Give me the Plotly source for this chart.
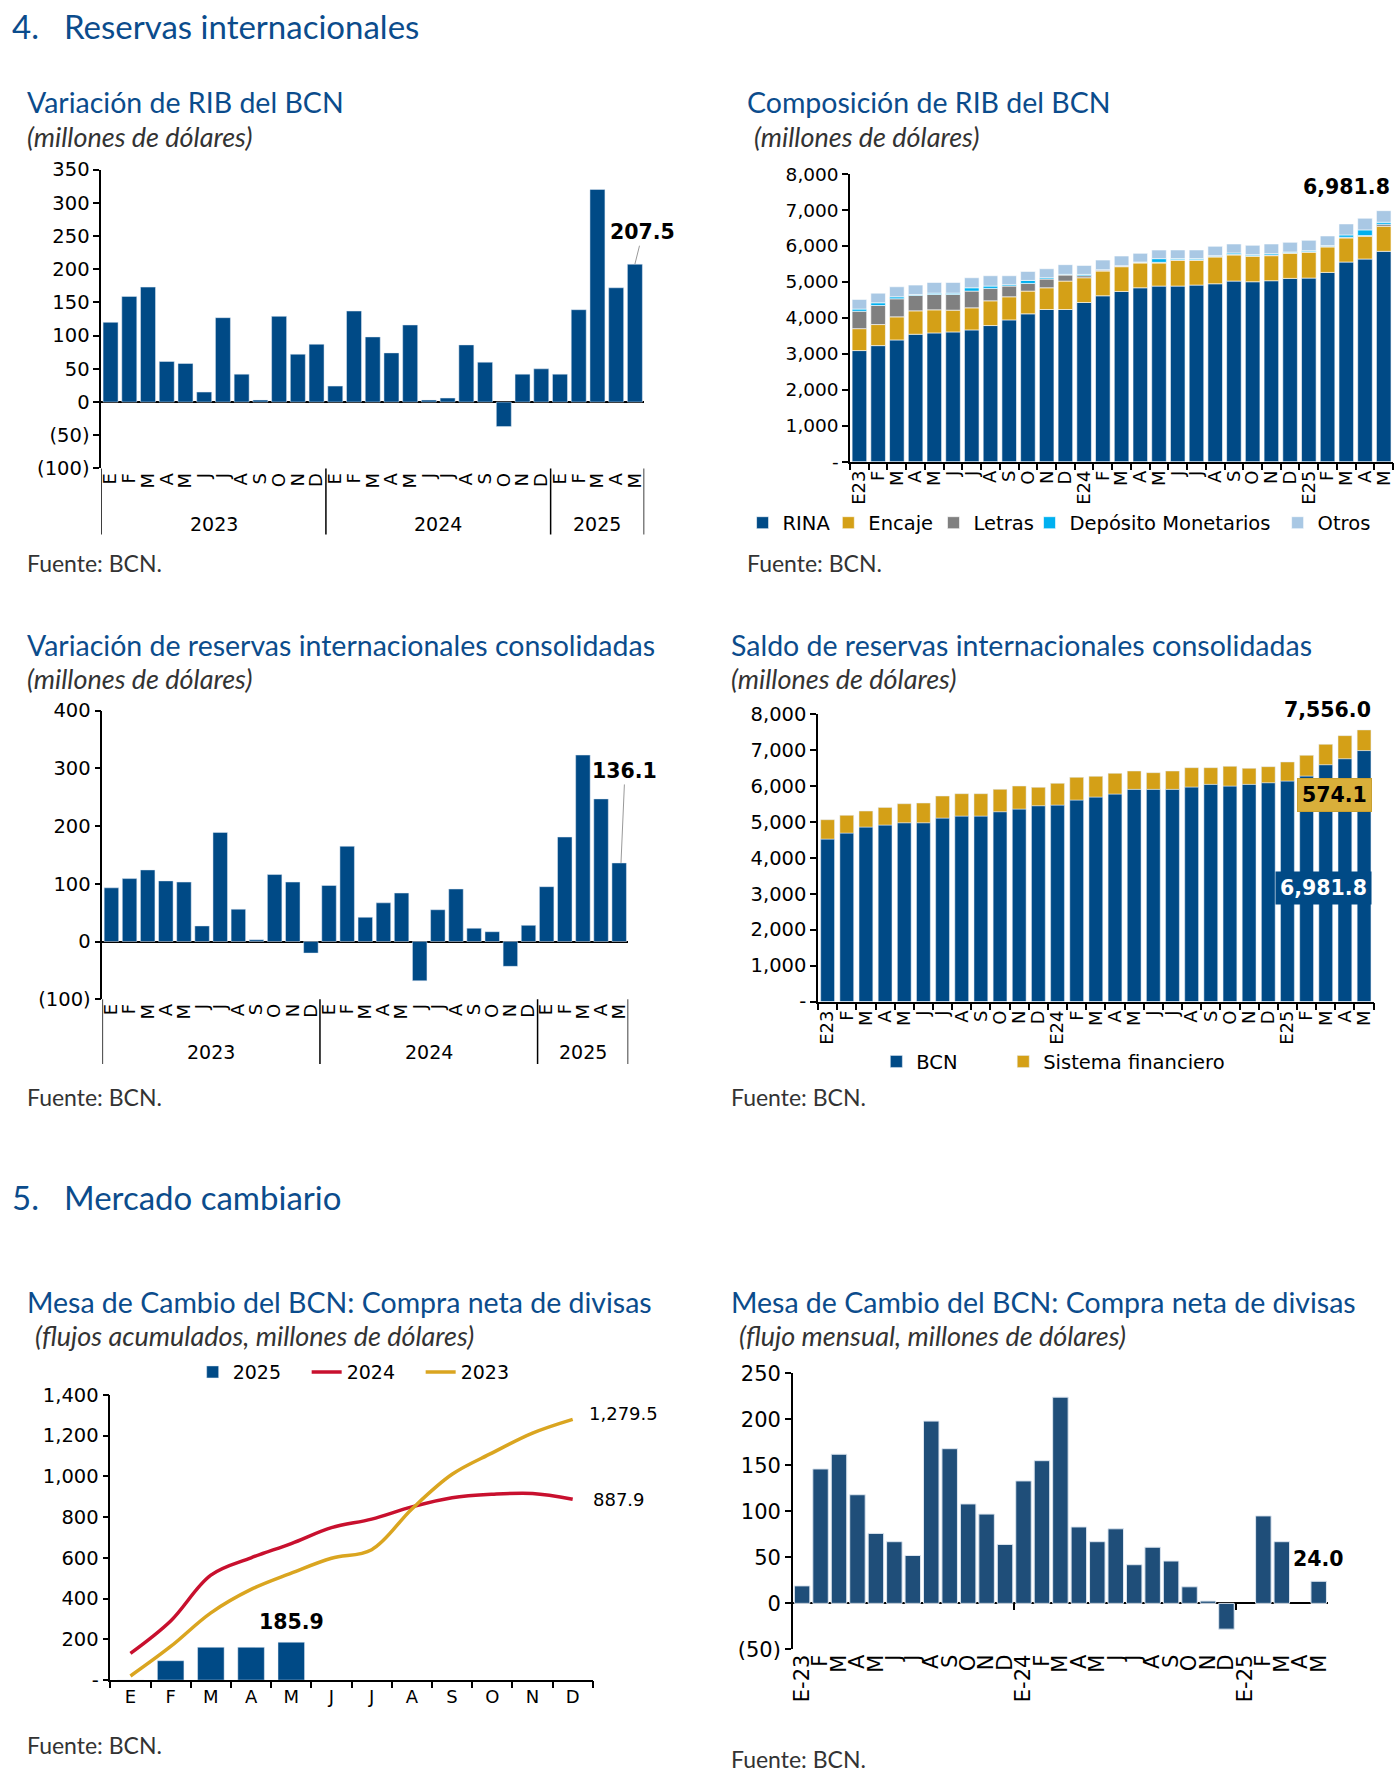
import plotly.graph_objects as go

W, H = 1399, 1781
K = W / 1232.0


def px(x):
    return ((x - 6.1) / 0.989) * K / W


def py(y):
    return 1 - ((y - 12.4) / 0.9856) * K / H


# ---------------- DATA ----------------
months_29 = ['E', 'F', 'M', 'A', 'M', 'J', 'J', 'A', 'S', 'O', 'N', 'D'] * 2 + ['E', 'F', 'M', 'A', 'M']
months_comp = ['E23', 'F', 'M', 'A', 'M', 'J', 'J', 'A', 'S', 'O', 'N', 'D',
               'E24', 'F', 'M', 'A', 'M', 'J', 'J', 'A', 'S', 'O', 'N', 'D',
               'E25', 'F', 'M', 'A', 'M']
months_flow = ['E-23', 'F', 'M', 'A', 'M', 'J', 'J', 'A', 'S', 'O', 'N', 'D',
               'E-24', 'F', 'M', 'A', 'M', 'J', 'J', 'A', 'S', 'O', 'N', 'D',
               'E-25', 'F', 'M', 'A', 'M']
months_12 = ['E', 'F', 'M', 'A', 'M', 'J', 'J', 'A', 'S', 'O', 'N', 'D']
years = ['2023', '2024', '2025']

# Variación de RIB del BCN
var_rib = [120, 159, 173, 61, 58, 15, 127, 42, 3, 129, 72, 87,
           24, 137, 98, 74, 116, 3, 6, 86, 60, -37, 42, 50,
           42, 139, 320, 172, 207.5]

# Composición de RIB del BCN
rina = [3090, 3228, 3386, 3544, 3581, 3609, 3665, 3786, 3944, 4112, 4233, 4233,
        4428, 4614, 4735, 4837, 4884, 4884, 4912, 4949, 5023, 5005, 5033, 5098,
        5107, 5265, 5553, 5637, 5851]
encaje = [610, 586, 642, 651, 642, 605, 614, 688, 642, 632, 604, 790,
          688, 688, 688, 689, 642, 716, 688, 744, 726, 707, 697, 697,
          716, 707, 670, 633, 698]
letras = [484, 530, 502, 428, 428, 437, 465, 345, 298, 214, 242, 168,
          56, 28, 19, 19, 19, 19, 19, 19, 19, 19, 19, 19,
          19, 19, 19, 19, 56]
deposito = [60, 75, 56, 28, 37, 37, 93, 65, 37, 84, 37, 20,
            37, 9, 9, 9, 102, 30, 30, 19, 37, 28, 37, 19,
            28, 19, 65, 158, 55]
otros = [270, 269, 279, 261, 298, 298, 279, 288, 251, 251, 251, 269,
         251, 270, 270, 241, 241, 241, 241, 260, 251, 260, 270, 269,
         288, 269, 307, 325, 321.8]

# Variación de reservas internacionales consolidadas
var_ric = [93, 109, 124, 105, 103, 27, 189, 56, 3, 116, 103, -20,
           97, 165, 42, 67, 84, -68, 55, 91, 23, 17, -43, 28,
           95, 181, 323, 247, 136.1]

# Saldo de reservas internacionales consolidadas
saldo_bcn = [4520, 4687, 4854, 4910, 4974, 4974, 5104, 5160, 5160, 5281, 5355, 5448,
             5466, 5606, 5689, 5773, 5903, 5903, 5903, 5968, 6042, 5995, 6042, 6088,
             6135, 6274, 6589, 6756, 6981.8]
saldo_sf = [538, 492, 445, 491, 529, 548, 613, 622, 622, 622, 640, 510,
            604, 631, 576, 575, 510, 464, 510, 538, 464, 548, 445, 446,
            529, 575, 566, 641, 574.1]

# Mesa de cambio: flujos acumulados
acum_2025 = [0, 95, 161, 161, 185.9]
acum_2024 = [131, 290, 515, 600, 670, 748, 790, 850, 895, 912, 916, 887.9]
acum_2023 = [20, 165, 330, 445, 525, 598, 640, 840, 1010, 1115, 1212, 1279.5]

# Mesa de cambio: flujo mensual
flujo_mensual = [19, 146, 162, 118, 76, 67, 52, 198, 168, 108, 97, 64,
                 133, 155, 224, 83, 67, 81, 42, 61, 46, 18, 2.5, -28,
                 0, 95, 67, 0, 24.0]

# ---------------- STYLE ----------------
BLUE = '#004A86'
GOLD = '#D4A017'
GRAY = '#808080'
CYAN = '#00B0F0'
LIGHT = '#A9C8E4'
RED = '#C8102E'
YEL = '#DAA520'
TITLE_C = '#0B4C8C'
TXT = '#333333'
TITLE_FONT = 'Lato'


def tf(size):
    return dict(family='DejaVu Sans', size=size, color='black')


fig = go.Figure()
xi = list(range(29))

# Chart 1
fig.add_trace(go.Bar(x=xi, y=var_rib, marker_color=BLUE, width=0.8, showlegend=False,
                     xaxis='x', yaxis='y'))
# Chart 2
comp = [('RINA', rina, BLUE), ('Encaje', encaje, GOLD), ('Letras', letras, GRAY),
        ('Depósito Monetarios', deposito, CYAN), ('Otros', otros, LIGHT)]
comp_leg = ['legend', 'legend2', 'legend3', 'legend4', 'legend5']
for (name, vals, col), lg in zip(comp, comp_leg):
    fig.add_trace(go.Bar(x=xi, y=vals, name=name, marker_color=col, width=0.78,
                         marker_line=dict(color='white', width=0.6),
                         xaxis='x2', yaxis='y2', legend=lg))
# Chart 3
fig.add_trace(go.Bar(x=xi, y=var_ric, marker_color=BLUE, width=0.8, showlegend=False,
                     xaxis='x3', yaxis='y3'))
# Chart 4
fig.add_trace(go.Bar(x=xi, y=saldo_bcn, name='BCN', marker_color=BLUE, width=0.72,
                     xaxis='x4', yaxis='y4', legend='legend6'))
fig.add_trace(go.Bar(x=xi, y=saldo_sf, name='Sistema financiero', marker_color=GOLD, width=0.72,
                     xaxis='x4', yaxis='y4', legend='legend7'))
# Chart 5
x12 = list(range(12))
fig.add_trace(go.Bar(x=x12[:len(acum_2025)], y=acum_2025, name='2025', marker_color=BLUE, width=0.66,
                     xaxis='x5', yaxis='y5', legend='legend8'))
fig.add_trace(go.Scatter(x=x12, y=acum_2024, name='2024', mode='lines',
                         line=dict(color=RED, width=3.5, shape='spline', smoothing=1.0),
                         xaxis='x5', yaxis='y5', legend='legend8'))
fig.add_trace(go.Scatter(x=x12, y=acum_2023, name='2023', mode='lines',
                         line=dict(color=YEL, width=3.5, shape='spline', smoothing=1.0),
                         xaxis='x5', yaxis='y5', legend='legend8'))
# Chart 6
fig.add_trace(go.Bar(x=xi, y=flujo_mensual, marker_color='#1F4E79', width=0.84,
                     marker_line=dict(color='#DDE6F0', width=[1 if v else 0 for v in flujo_mensual]),
                     showlegend=False, xaxis='x6', yaxis='y6'))


def fmt_paren(v):
    if v < 0:
        return '({:,})'.format(-v)
    return '{:,}'.format(v)


def fmt_dash(v):
    return '-' if v == 0 else '{:,}'.format(v)


def yax(dom, rng, vals, fn, fsize=19.5, **kw):
    d = dict(domain=dom, range=rng, tickmode='array', tickvals=vals,
             ticktext=[fn(v) for v in vals], showline=True, linecolor='black', linewidth=1.5,
             ticks='outside', ticklen=6, tickcolor='black', tickwidth=1.5, showgrid=False,
             zeroline=False, tickfont=tf(fsize), fixedrange=True)
    d.update(kw)
    return d


def xax(dom, rng, labels, anchor, angle=-90, fsize=18, **kw):
    d = dict(domain=dom, range=rng, anchor=anchor, tickmode='array',
             tickvals=list(range(len(labels))), ticktext=labels, tickangle=angle,
             ticks='', showline=False, showgrid=False, zeroline=False, tickfont=tf(fsize),
             fixedrange=True)
    d.update(kw)
    return d


# Domains
d1x, d1y = [px(92), px(567)], [py(414), py(151)]
d2x, d2y = [px(747), px(1222)], [py(408), py(155)]
d3x, d3y = [px(93), px(553)], [py(881), py(627)]
d4x, d4y = [px(719), px(1205)], [py(883), py(630)]
d5x, d5y = [px(100), px(522)], [py(1480), py(1229)]
d6x, d6y = [px(697), px(1165)], [py(1453), py(1210)]

R29 = [-0.5, 28.5]
zero6 = d6y[0] + (0 - (-50)) / 300.0 * (d6y[1] - d6y[0])


def overlay(base, anchor, rng, vals, **kw):
    d = dict(overlaying=base, anchor=anchor, range=rng, tickmode='array',
             tickvals=vals, ticks='outside', ticklen=7, tickwidth=1.5, tickcolor='black',
             showticklabels=False, showgrid=False, zeroline=False, showline=False,
             fixedrange=True)
    d.update(kw)
    return d


LEGF = tf(19.5)


def leg(text_x, y, font=LEGF, **kw):
    d = dict(orientation='h', x=px(text_x - 37), y=py(y), xanchor='left', yanchor='middle',
             font=font, bgcolor='rgba(0,0,0,0)', traceorder='normal')
    d.update(kw)
    return d


layout = dict(
    width=W, height=H, margin=dict(l=0, r=0, t=0, b=0, pad=0),
    paper_bgcolor='white', plot_bgcolor='white', barmode='relative',
    font=dict(family='DejaVu Sans', size=17, color='black'),
    xaxis=xax(d1x, R29, months_29, 'y'),
    yaxis=yax(d1y, [-100, 350], list(range(-100, 351, 50)), fmt_paren,
              zeroline=True, zerolinecolor='black', zerolinewidth=2, anchor='x'),
    xaxis2=xax(d2x, R29, months_comp, 'y2', showline=True, linecolor='black', linewidth=1.5),
    yaxis2=yax(d2y, [0, 8000], list(range(0, 8001, 1000)), fmt_dash, fsize=18.5, anchor='x2'),
    xaxis3=xax(d3x, R29, months_29, 'y3'),
    yaxis3=yax(d3y, [-100, 400], list(range(-100, 401, 100)), fmt_paren,
               zeroline=True, zerolinecolor='black', zerolinewidth=2, anchor='x3'),
    xaxis4=xax(d4x, R29, months_comp, 'y4', showline=True, linecolor='black', linewidth=1.5),
    yaxis4=yax(d4y, [0, 8000], list(range(0, 8001, 1000)), fmt_dash, anchor='x4'),
    xaxis5=xax(d5x, [-0.5, 11.5], months_12, 'y5', angle=0, showline=True,
               linecolor='black', linewidth=1.5),
    yaxis5=yax(d5y, [0, 1400], list(range(0, 1401, 200)), fmt_dash, anchor='x5'),
    xaxis6=xax(d6x, R29, months_flow, 'y6', fsize=21),
    yaxis6=yax(d6y, [-50, 250], list(range(-50, 251, 50)), fmt_paren, fsize=21,
               zeroline=True, zerolinecolor='black', zerolinewidth=2, anchor='x6'),
    xaxis7=overlay('x2', 'y2', R29, [i - 0.5 for i in range(30)]),
    xaxis8=overlay('x4', 'y4', R29, [i - 0.5 for i in range(30)]),
    xaxis9=overlay('x5', 'y5', [-0.5, 11.5], [i - 0.5 for i in range(13)]),
    xaxis10=overlay('x6', 'free', R29, [11.5, 23.5], position=zero6, ticklen=6),
    legend=leg(690, 462),
    legend2=leg(765, 462),
    legend3=leg(857, 462),
    legend4=leg(941, 462),
    legend5=leg(1158, 462),
    legend6=leg(807, 936),
    legend7=leg(918, 936),
    legend8=leg(209, 1209, font=tf(19), entrywidth=69),
)
fig.update_layout(**layout)
# dummy traces to activate overlay axes
for ax, ay in [('x7', 'y2'), ('x8', 'y4'), ('x9', 'y5'), ('x10', 'y6')]:
    fig.add_trace(go.Scatter(x=[None], y=[None], xaxis=ax, yaxis=ay, showlegend=False,
                             hoverinfo='skip'))

ann = []


def text(x, y, s, size, color=TXT, family=TITLE_FONT, italic=False, bold=False, anchor='left'):
    if italic:
        s = '<i>' + s + '</i>'
    if bold:
        s = '<b>' + s + '</b>'
    ann.append(dict(xref='paper', yref='paper', x=px(x), y=py(y), text=s, showarrow=False,
                    xanchor=anchor, yanchor='middle',
                    font=dict(family=family, size=size, color=color)))


SEC, TIT, SUB, SRC = 33, 28.5, 27, 23
# Section titles
text(12, 25, '4.', SEC, TITLE_C)
text(58, 25, 'Reservas internacionales', SEC, TITLE_C)
text(12, 1055, '5.', SEC, TITLE_C)
text(58, 1055, 'Mercado cambiario', SEC, TITLE_C)

# Chart titles / subtitles / sources
text(25, 92, 'Variación de RIB del BCN', TIT, TITLE_C)
text(25, 122, '(millones de dólares)', SUB, TXT, italic=True)
text(25, 497, 'Fuente: BCN.', SRC, TXT)

text(655, 92, 'Composición de RIB del BCN', TIT, TITLE_C)
text(661, 122, '(millones de dólares)', SUB, TXT, italic=True)
text(655, 497, 'Fuente: BCN.', SRC, TXT)

text(25, 569, 'Variación de reservas internacionales consolidadas', TIT, TITLE_C)
text(25, 599, '(millones de dólares)', SUB, TXT, italic=True)
text(25, 967, 'Fuente: BCN.', SRC, TXT)

text(641, 569, 'Saldo de reservas internacionales consolidadas', TIT, TITLE_C)
text(641, 599, '(millones de dólares)', SUB, TXT, italic=True)
text(641, 967, 'Fuente: BCN.', SRC, TXT)

text(25, 1147, 'Mesa de Cambio del BCN: Compra neta de divisas', TIT, TITLE_C)
text(32, 1177, '(flujos acumulados, millones de dólares)', SUB, TXT, italic=True)
text(25, 1537, 'Fuente: BCN.', SRC, TXT)

text(641, 1147, 'Mesa de Cambio del BCN: Compra neta de divisas', TIT, TITLE_C)
text(648, 1177, '(flujo mensual, millones de dólares)', SUB, TXT, italic=True)
text(641, 1549, 'Fuente: BCN.', SRC, TXT)

# Year labels and separators for charts 1 and 3
year_centers = [5.5, 17.5, 26]
shapes = []
for xa, yb, yt, yl in [('x', 414, 472, 463), ('x3', 881, 938, 927)]:
    for yc, yr in zip(year_centers, years):
        ann.append(dict(xref=xa, yref='paper', x=yc, y=py(yl), text=yr, showarrow=False,
                        xanchor='center', yanchor='middle', font=tf(19)))
    for b in [-0.5, 11.5, 23.5, 28.5]:
        shapes.append(dict(type='line', xref=xa, yref='paper', x0=b, x1=b, y0=py(yb), y1=py(yt),
                           line=dict(color='black', width=1.5)))

BOLD = tf(20.5)
# Value labels
ann.append(dict(xref='x', yref='y', x=28, y=var_rib[-1], text='<b>207.5</b>', showarrow=True,
                arrowhead=0, arrowwidth=1, arrowcolor='#999999', ax=8, ay=-32, font=BOLD))
ann.append(dict(xref='x3', yref='y3', x=28.1, y=var_ric[-1], text='<b>136.1</b>', showarrow=True,
                arrowhead=0, arrowwidth=1, arrowcolor='#999999', ax=4, ay=-92, font=BOLD))
ann.append(dict(xref='x2', yref='y2', x=28.45,
                y=rina[-1] + encaje[-1] + letras[-1] + deposito[-1] + otros[-1],
                text='<b>6,981.8</b>', showarrow=False, xanchor='right', yanchor='bottom',
                yshift=10, font=BOLD))
ann.append(dict(xref='x4', yref='y4', x=28.45, y=saldo_bcn[-1] + saldo_sf[-1],
                text='<b>7,556.0</b>', showarrow=False, xanchor='right', yanchor='bottom',
                yshift=6, font=BOLD))
ann.append(dict(xref='x4', yref='y4', x=28.4, y=5750, text='<b>574.1</b>', showarrow=False,
                xanchor='right', yanchor='middle', bgcolor='#D9AF3A', bordercolor='#C9A030',
                borderpad=4, font=BOLD))
ann.append(dict(xref='x4', yref='y4', x=28.4, y=3160, text='<b>6,981.8</b>', showarrow=False,
                xanchor='right', yanchor='middle', bgcolor=BLUE, borderpad=4,
                font=dict(family='DejaVu Sans', size=20.5, color='white')))
ann.append(dict(xref='x5', yref='y5', x=4, y=acum_2025[-1], text='<b>185.9</b>', showarrow=False,
                xanchor='center', yanchor='bottom', yshift=6, font=BOLD))
ann.append(dict(xref='x5', yref='y5', x=11, y=acum_2023[-1], text='1,279.5', showarrow=False,
                xanchor='left', yanchor='middle', xshift=14, yshift=6, font=tf(18)))
ann.append(dict(xref='x5', yref='y5', x=11, y=acum_2024[-1], text='887.9', showarrow=False,
                xanchor='left', yanchor='middle', xshift=18, font=tf(18)))
ann.append(dict(xref='x6', yref='y6', x=28, y=flujo_mensual[-1], text='<b>24.0</b>', showarrow=False,
                xanchor='center', yanchor='bottom', yshift=8, font=BOLD))

fig.update_layout(annotations=ann, shapes=shapes)
fig.write_html('out.html', config={'displayModeBar': False},
               post_script="document.body.style.margin='0';document.body.style.padding='0';"
                           "document.documentElement.style.overflow='hidden';")
